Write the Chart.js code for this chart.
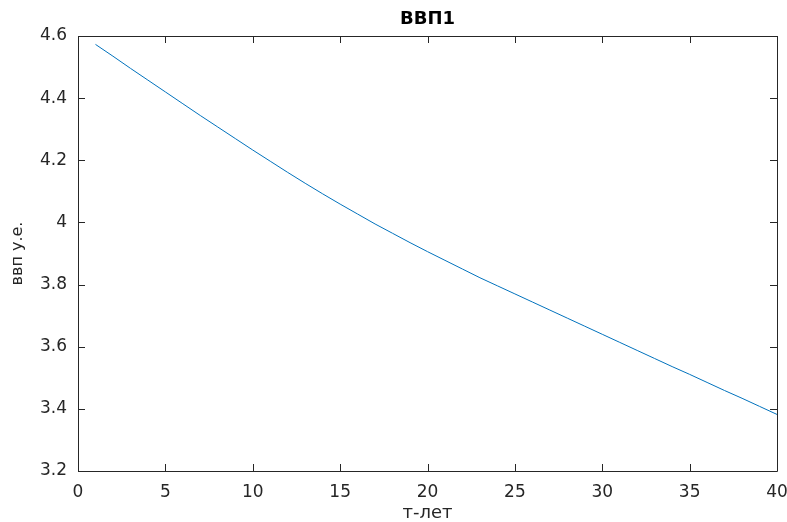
<!DOCTYPE html>
<html>
<head>
<meta charset="utf-8">
<script src="https://cdn.jsdelivr.net/npm/chart.js@4"></script>
<style>
  body { margin: 0; background: #fff; }
</style>
</head>
<body>
<canvas id="gdpChart" width="787" height="522"></canvas>
<script>
const years = [1, 2, 3, 4, 5, 6, 7, 8, 9, 10, 11, 12, 13, 14, 15, 16, 17, 18, 19, 20,
  21, 22, 23, 24, 25, 26, 27, 28, 29, 30, 31, 32, 33, 34, 35, 36, 37, 38, 39, 40];
const gdp = [4.573, 4.535, 4.496, 4.458, 4.420, 4.382, 4.344, 4.307, 4.270, 4.233,
  4.197, 4.161, 4.126, 4.092, 4.059, 4.027, 3.995, 3.965, 3.935, 3.906,
  3.878, 3.850, 3.822, 3.796, 3.770, 3.744, 3.718, 3.692, 3.666, 3.640,
  3.614, 3.588, 3.562, 3.536, 3.511, 3.485, 3.459, 3.434, 3.408, 3.382];
const xTicks = [0, 5, 10, 15, 20, 25, 30, 35, 40];
const yTicks = ['3.2', '3.4', '3.6', '3.8', '4', '4.2', '4.4', '4.6'];
const chartTitle = 'ВВП1';

const axisColor = '#262626';
const fontFamily = 'DejaVu Sans, Verdana, sans-serif';

// MATLAB-style box with inward ticks on all four sides, title over the plot area
const boxTicks = {
  id: 'boxTicks',
  afterDraw(chart) {
    const { ctx, chartArea: a, scales } = chart;
    const len = 7;
    ctx.save();
    ctx.strokeStyle = axisColor;
    ctx.lineWidth = 1;
    ctx.beginPath();
    ctx.rect(a.left + 0.5, a.top + 0.5, a.right - a.left, a.bottom - a.top);
    scales.x.ticks.forEach(t => {
      const px = Math.round(scales.x.getPixelForValue(t.value)) + 0.5;
      ctx.moveTo(px, a.bottom); ctx.lineTo(px, a.bottom - len);
      ctx.moveTo(px, a.top); ctx.lineTo(px, a.top + len);
    });
    scales.y.ticks.forEach(t => {
      const py = Math.round(scales.y.getPixelForValue(t.value)) + 0.5;
      ctx.moveTo(a.left, py); ctx.lineTo(a.left + len, py);
      ctx.moveTo(a.right, py); ctx.lineTo(a.right - len, py);
    });
    ctx.stroke();

    ctx.fillStyle = '#000';
    ctx.font = 'bold 18px ' + fontFamily;
    ctx.textAlign = 'center';
    ctx.textBaseline = 'middle';
    ctx.fillText(chartTitle, (a.left + a.right) / 2, 19);
    ctx.restore();
  }
};

new Chart(document.getElementById('gdpChart').getContext('2d'), {
  type: 'line',
  data: {
    datasets: [{
      data: years.map((t, i) => ({ x: t, y: gdp[i] })),
      borderColor: '#0072BD',
      borderWidth: 1,
      pointRadius: 0,
      tension: 0,
    }],
  },
  options: {
    responsive: false,
    animation: false,
    layout: { padding: { left: 0, right: 10, top: 36, bottom: 0 } },
    plugins: {
      legend: { display: false },
      tooltip: { enabled: false },
      title: { display: false },
    },
    scales: {
      x: {
        type: 'linear',
        min: 0,
        max: 40,
        afterBuildTicks: (s) => { s.ticks = xTicks.map(v => ({ value: v })); },
        grid: { display: false, drawTicks: false },
        border: { display: false },
        ticks: {
          color: axisColor,
          padding: 11,
          maxRotation: 0,
          font: { family: fontFamily, size: 17 },
        },
        title: {
          display: true,
          text: 'т-лет',
          color: axisColor,
          padding: { top: 0, bottom: 0 },
          font: { family: fontFamily, size: 18, lineHeight: 1 },
        },
        afterFit: (s) => { s.height = 51; s.paddingLeft = 0; s.paddingRight = 0; },
      },
      y: {
        min: 3.2,
        max: 4.6,
        afterBuildTicks: (s) => { s.ticks = yTicks.map(v => ({ value: Number(v) })); },
        grid: { display: false, drawTicks: false },
        border: { display: false },
        ticks: {
          color: axisColor,
          padding: 11,
          callback: (v) => yTicks.find(l => Math.abs(Number(l) - v) < 1e-6) ?? '',
          font: { family: fontFamily, size: 17 },
        },
        title: {
          display: true,
          text: 'ввп у.е.',
          color: axisColor,
          padding: { top: 10, bottom: 0 },
          font: { family: fontFamily, size: 16, lineHeight: 1 },
        },
        afterFit: (s) => { s.width = 78; s.paddingTop = 0; s.paddingBottom = 0; },
      },
    },
  },
  plugins: [boxTicks],
});
</script>
</body>
</html>
